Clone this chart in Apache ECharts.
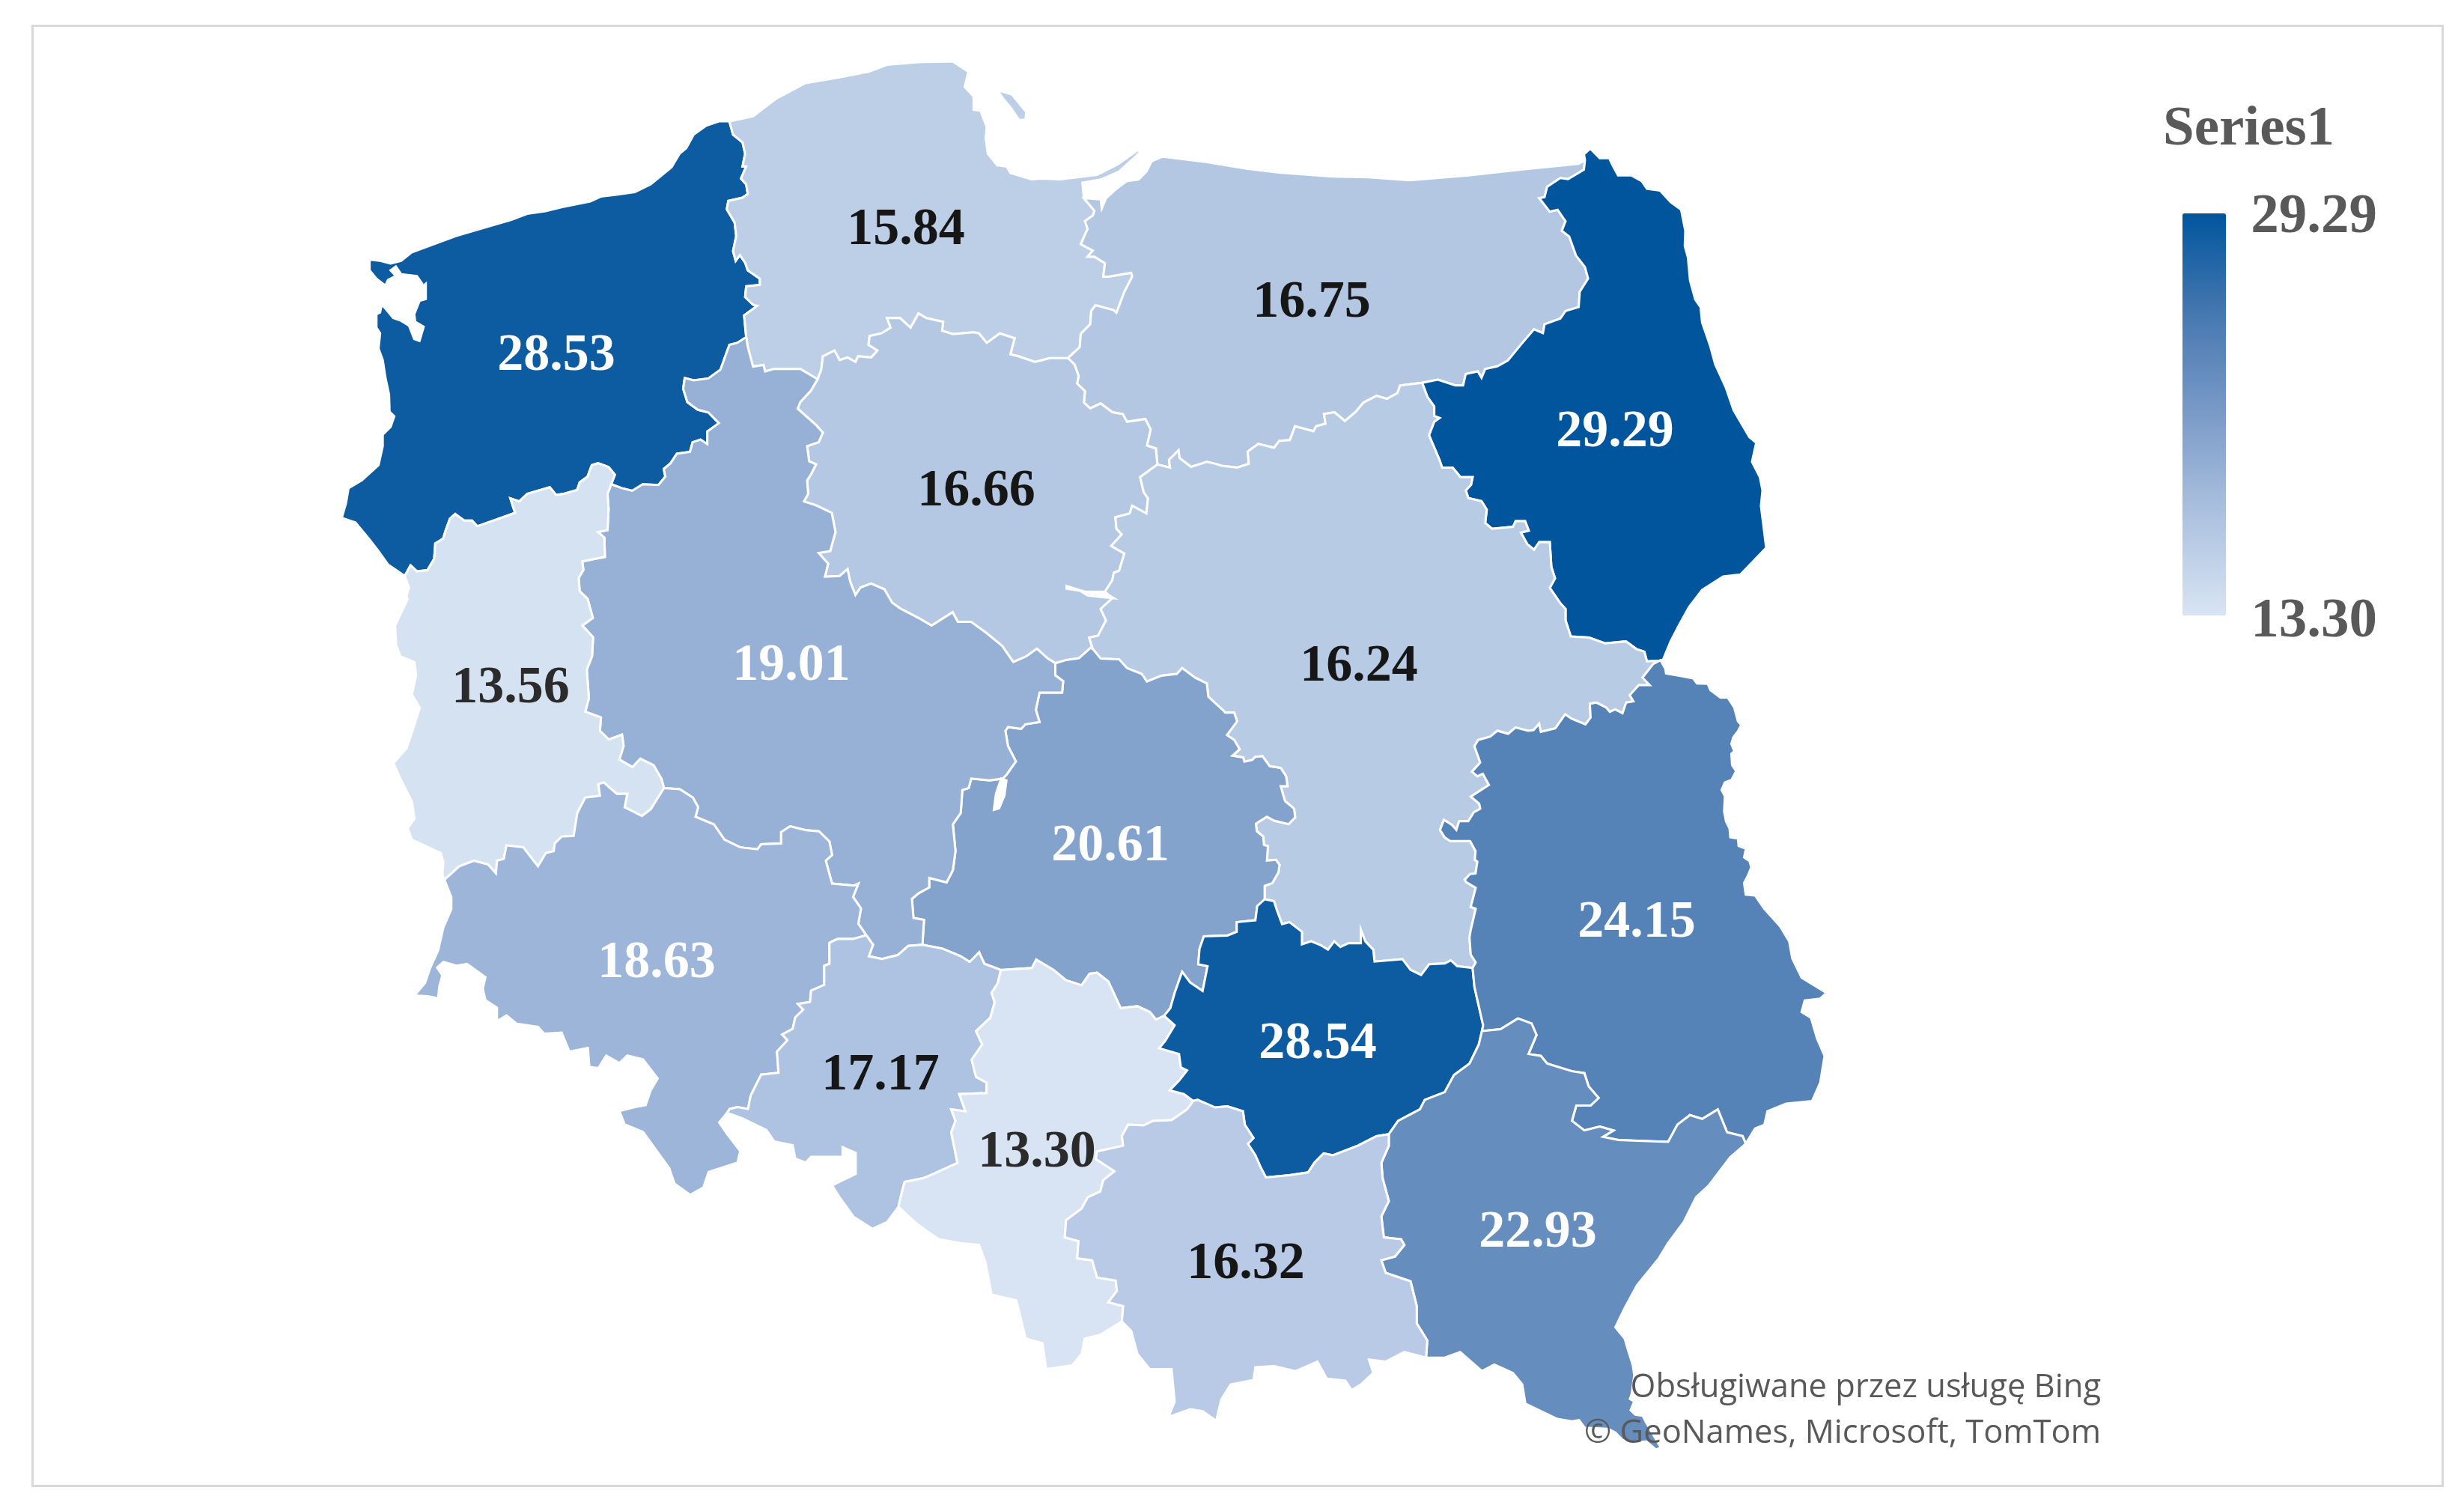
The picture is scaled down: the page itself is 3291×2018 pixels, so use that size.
<!DOCTYPE html>
<html>
<head>
<meta charset="utf-8">
<title>Series1</title>
<style>
  html, body { margin: 0; padding: 0; background: #fff; }
  #chart { width: 3291px; height: 2018px; }
</style>
<script src="https://cdn.jsdelivr.net/npm/echarts@6/dist/echarts.min.js"></script>
</head>
<body>
<div id="chart"></div>
<script>
// values per voivodeship
var regionNames = ['zachodniopomorskie', 'pomorskie', 'warminsko-mazurskie', 'podlaskie', 'kujawsko-pomorskie', 'mazowieckie', 'lubuskie', 'wielkopolskie', 'lodzkie', 'lubelskie', 'dolnoslaskie', 'opolskie', 'slaskie', 'swietokrzyskie', 'malopolskie', 'podkarpackie'];
var regionValues = [28.53, 15.84, 16.75, 29.29, 16.66, 16.24, 13.56, 19.01, 20.61, 24.15, 18.63, 17.17, 13.30, 28.54, 16.32, 22.93];
var valueMin = 13.30;
var valueMax = 29.29;
var rampColors = ['#d8e4f3', '#adc2e0', '#7a9bc8', '#4678b0', '#00559d'];

// label anchor of each region, in page pixels
var labelAnchors = [[743, 476], [1210, 308], [1752, 405], [2157, 578], [1304, 657], [1815, 891], [682, 920], [1057, 890], [1483, 1131], [2186, 1233], [877, 1287], [1176, 1437], [1385, 1540], [1760, 1395], [1664, 1689], [2054, 1647]];

// outlines were traced on enlarged crops, each crop has its own origin and scale
var crops = {
  nw: [420, 60, 1.4255, 1.96],
  ne: [1400, 150, 1.4255, 1.96],
  sw: [480, 800, 1.4255, 1.96],
  se: [1200, 1150, 1.2062, 1.96],
  mid: [1600, 880, 2.0632, 3],
  tail: [2080, 1800, 2.0632, 3]
};
function cr(name, pts) {
  var c = crops[name];
  return pts.map(function (p) { return [c[0] + p[0] / c[2], c[1] + p[1] / c[3]]; });
}
function rev(a) { return a.slice().reverse(); }

var zpCoast = cr('nw', [[790,200],[770,200],[745,212],[722,235],[708,270],[695,285],[680,320],[640,365],[610,385],[575,392],[545,397],[525,410],[470,425],[440,435],[405,442],[375,458],[315,482],[270,500],[240,515],[185,543],[165,565],[145,572],[125,565],[105,562],[105,590],[118,612],[135,630],[140,615],[155,605],[145,590],[155,580],[165,600],[195,605],[205,625],[203,635],[212,625],[212,665],[200,670],[190,705],[192,725],[208,738],[200,775],[190,770],[180,735],[165,722],[150,715],[135,690],[128,680],[125,700],[118,705],[118,740],[125,755],[122,795],[130,825],[135,870],[142,915],[143,960],[152,972],[145,1000],[130,1020],[130,1050],[122,1100],[90,1140],[65,1160],[60,1200],[52,1238],[78,1250],[105,1295],[122,1325],[140,1360],[172,1390]]);
var zpPm = cr('nw', [[790,200],[797,235],[815,255],[820,285],[815,318],[822,318],[812,350],[822,365],[825,390],[815,400],[788,408],[785,430],[800,465],[803,500],[797,540],[802,565],[810,550],[820,570],[825,590],[848,612],[848,628],[822,632],[820,660],[835,680],[843,683],[818,708],[822,765]]);
var zpWp = cr('nw', [[822,765],[805,780],[790,785],[773,850],[750,873],[722,878],[705,872],[702,900],[710,935],[730,955],[750,962],[770,990],[748,1012],[748,1045],[735,1033],[720,1040],[715,1065],[690,1070],[678,1095],[665,1110],[668,1130],[655,1152],[625,1150],[605,1167],[585,1160],[565,1150]]);
var zpLb = cr('nw', [[565,1150],[572,1125],[560,1105],[540,1095],[528,1100],[520,1130],[505,1145],[500,1165],[475,1175],[460,1178],[448,1158],[405,1175],[390,1195],[373,1187],[382,1225],[310,1260],[300,1245],[285,1245],[268,1228],[258,1240],[250,1270],[245,1292],[230,1305],[228,1345],[215,1375],[195,1378],[183,1362],[172,1390]]);
var pmCoast = cr('nw', [[790,200],[835,187],[880,140],[935,100],[1000,85],[1055,70],[1090,52],[1150,45],[1215,43],[1245,70],[1238,110],[1255,135],[1255,170],[1268,172],[1280,215],[1278,245],[1282,285],[1300,315],[1318,318],[1325,335],[1365,352],[1385,350],[1420,352],[1490,340],[1530,312],[1568,275]]).concat(cr('ne', [[175,105],[135,155],[100,176],[65,184],[68,225]]));
var pmWm = cr('ne', [[68,225],[88,258],[85,270],[70,285],[75,305],[62,345],[85,362],[75,378],[88,378],[108,395],[105,430],[115,430],[158,420],[160,430],[145,470],[130,525],[125,518],[90,505],[82,520],[80,555],[62,580],[60,615],[40,640],[38,645]]);
var pmKp = cr('nw', [[1435,820],[1400,820],[1372,830],[1340,815],[1325,810],[1333,768],[1305,755],[1280,780],[1265,755],[1255,752],[1215,757],[1195,748],[1197,725],[1165,715],[1150,703],[1135,740],[1115,715],[1090,715],[1097,740],[1080,755],[1057,762],[1055,785],[1072,800],[1060,818],[1035,815],[1030,830],[1015,818],[1000,825],[990,800],[968,815],[965,850],[958,875]]);
var pmWp = cr('nw', [[958,875],[925,848],[875,848],[858,855],[855,838],[835,842],[825,790],[822,765]]);
var wmCoast = cr('ne', [[68,225],[100,228],[102,252],[110,225],[130,200],[150,180],[172,176],[187,155],[197,128],[218,116],[300,130],[380,148],[440,158],[540,168],[610,170],[688,178],[800,165],[900,150],[1010,135],[1022,125]]);
var wmPd = cr('ne', [[1022,125],[1020,150],[990,175],[975,172],[950,195],[945,222],[935,225],[955,260],[970,255],[985,285],[978,310],[992,325],[1005,375],[1022,405],[1028,435],[1012,470],[1010,510],[985,520],[975,540],[945,555],[942,578],[925,568],[905,600],[875,650],[855,665],[832,672],[825,695],[818,678],[795,685],[790,715],[775,715],[742,700],[712,708]]);
var wmMz = cr('ne', [[712,708],[670,715],[665,735],[645,750],[625,742],[600,760],[585,785],[565,808],[545,785],[525,790],[528,815],[510,822],[505,835],[470,822],[460,858],[440,860],[430,878],[400,868],[380,888],[382,920],[360,930],[330,925],[318,920],[302,915],[272,928],[250,905],[248,885],[230,910],[232,930],[208,922]]);
var wmKp = cr('ne', [[38,645],[50,660],[58,690],[55,710],[70,730],[68,760],[80,775],[100,762],[122,785],[142,790],[150,810],[185,803],[195,830],[188,872],[205,880],[208,922]]);
var pdBorder = cr('ne', [[1022,125],[1020,110],[1032,95],[1050,120],[1068,120],[1075,140],[1085,165],[1110,165],[1130,180],[1140,200],[1165,205],[1185,235],[1205,255],[1213,310],[1212,350],[1218,380],[1222,440],[1232,490],[1242,510],[1245,550],[1260,610],[1270,660],[1290,720],[1305,780],[1322,820],[1335,850],[1348,865],[1340,915],[1355,955],[1360,990],[1357,1030],[1362,1085],[1367,1140],[1318,1210],[1285,1215],[1245,1250],[1220,1295],[1200,1345],[1185,1385],[1170,1435]]);
var pdMz = cr('ne', [[712,708],[722,745],[735,770],[735,795],[745,800],[735,810],[725,845],[745,910],[750,930],[770,930],[785,955],[808,955],[805,975],[795,990],[800,1010],[825,1018],[835,1040],[832,1075],[845,1090],[885,1085],[890,1070],[908,1070],[915,1095],[900,1100],[912,1130],[925,1145],[935,1125],[955,1125],[958,1190],[965,1220],[955,1245],[975,1285],[985,1300],[985,1330],[995,1372],[1030,1375],[1060,1390],[1100,1385],[1120,1405],[1135,1412],[1140,1437],[1170,1435]]);
var kpWp = cr('nw', [[958,875],[945,905],[925,935],[920,952],[955,995],[968,1015],[960,1040],[938,1050],[942,1090],[955,1098],[945,1125],[938,1140],[940,1175],[932,1195],[955,1205],[985,1225],[992,1275],[982,1325],[960,1330],[978,1358],[972,1392],[1000,1390],[1015,1372],[1020,1405],[1030,1440],[1040,1420],[1060,1410],[1085,1425],[1100,1460],[1115,1475],[1150,1500],[1175,1520],[1215,1485],[1225,1510],[1250,1510],[1280,1540],[1305,1568]]).concat(cr('sw', [[1225,125],[1245,165],[1270,150],[1290,130],[1310,155],[1325,168]]));
var kpLd = cr('sw', [[1325,168],[1345,160],[1370,155],[1392,128]]);
var kpMz = cr('ne', [[208,922],[175,955],[182,995],[190,1010],[187,1050],[160,1030],[155,1050],[128,1060],[130,1090],[140,1105],[120,1135],[145,1155],[135,1200],[125,1205],[122,1225],[108,1255],[122,1272],[100,1300],[110,1330],[95,1370],[78,1375],[85,1405]]);
var mzLd = cr('ne', [[85,1405],[100,1430],[135,1432],[150,1455],[178,1470],[188,1490],[215,1475],[245,1470],[255,1455],[280,1480],[302,1495],[305,1530],[335,1568]]).concat(cr('mid', [[75,215],[100,215],[108,250],[80,305],[100,325],[115,362],[95,388],[125,395],[128,412],[150,405],[158,392],[178,390],[198,430],[228,437],[243,470],[247,510],[228,510],[240,570],[265,600],[268,635],[250,662],[210,648],[190,632],[160,660],[162,690],[180,712],[182,745],[193,750],[190,808],[215,805],[225,825],[222,855],[205,898]]), cr('se', [[590,65],[590,100]]));
var mzSk = cr('se', [[590,100],[605,105],[610,130],[618,165],[630,160],[650,185],[650,218],[665,210],[680,220],[692,232],[702,210],[712,225],[725,215],[745,215],[745,180],[752,210],[765,232],[767,263],[812,257],[825,285],[842,298],[855,270],[880,268],[890,260],[900,275],[925,280]]);
var skLd = cr('se', [[590,100],[578,118],[575,155],[545,160],[545,185],[530,195],[492,197],[485,230],[483,270],[498,275],[490,340],[470,318],[457,290],[445,345],[438,385],[428,405]]);
var slSk = cr('se', [[428,405],[445,430],[430,470],[420,490],[452,505],[455,540],[465,548],[452,575],[437,600],[460,610],[475,628]]);
var maSk = cr('se', [[475,628],[482,625],[510,645],[530,642],[555,655],[558,690],[572,725],[563,740],[575,770],[583,800],[592,828],[630,822],[660,815],[670,790],[685,765],[700,770],[740,745],[770,720],[790,715]]);
var pkSk = cr('se', [[790,715],[805,680],[840,650],[848,625],[880,605],[895,560],[920,530],[935,480],[940,445]]);
var skLu = cr('se', [[925,280],[928,330],[935,380],[942,430],[940,445]]);
var luPk = cr('se', [[940,445],[970,440],[998,412],[1020,425],[1028,455],[1015,505],[1035,510],[1045,530],[1085,550],[1105,555],[1112,590],[1128,620],[1115,640],[1092,640],[1085,680],[1105,705],[1130,695],[1152,705],[1135,722],[1160,730],[1190,732],[1240,735],[1255,690],[1275,665],[1295,675],[1320,650],[1335,710],[1360,720],[1365,740]]);
var luBorder = cr('mid', [[1275,5],[1288,40],[1290,58],[1330,68],[1365,78],[1375,98],[1405,100],[1412,125],[1440,155],[1460,155],[1478,195],[1488,250],[1497,265],[1488,290],[1475,315],[1470,340],[1478,370],[1470,380],[1472,425],[1483,450],[1470,485],[1452,495],[1443,525],[1452,550],[1450,610],[1455,650],[1465,680],[1467,715],[1488,720],[1490,750],[1510,760],[1505,795],[1520,810],[1525,835],[1515,870],[1505,898]]).concat(cr('se', [[1365,88],[1380,90],[1395,125],[1420,170],[1435,210],[1440,255],[1455,305],[1495,345],[1485,360],[1460,365],[1455,395],[1470,410],[1480,465],[1492,510],[1485,580],[1472,628],[1430,635],[1400,655],[1395,690],[1380,700],[1365,740]]));
var luMz = cr('se', [[925,280],[930,265],[922,245],[920,200],[922,180],[930,125],[922,120],[930,70]]).concat(cr('mid', [[740,895],[735,885],[750,862],[765,860],[770,812],[763,805],[765,770],[750,730],[695,730],[680,715],[667,685],[678,645],[700,665],[712,685],[720,650],[745,650],[760,615],[778,600],[775,580],[752,552],[802,505],[785,460],[770,470],[755,452],[778,415],[762,350],[772,325],[805,312],[825,288],[855,300],[875,275],[910,288],[925,285],[940,260],[945,292],[985,278],[1012,222],[1030,240],[1068,262],[1082,235],[1080,180],[1098,175],[1125,195],[1135,212],[1150,202],[1170,218],[1180,175],[1200,170],[1190,145],[1215,105],[1245,105],[1225,75],[1255,20],[1275,5]]));
var pkBorder = cr('se', [[1365,740],[1340,775],[1305,850],[1285,880],[1265,945],[1240,1000],[1225,1040],[1190,1110],[1170,1170],[1155,1220],[1170,1250]]).concat(cr('tail', [[193,0],[208,70],[212,110],[205,185],[200,205],[212,215],[202,250],[215,268],[235,272],[245,300],[285,400],[272,408],[245,375],[215,380],[180,370],[160,340],[140,325],[75,320],[60,290],[40,295],[0,285]]), cr('se', [[1010,1420],[1005,1370],[990,1340],[960,1318],[940,1335],[905,1285],[880,1300],[850,1300]]));
var pkMa = cr('se', [[850,1300],[852,1255],[835,1210],[835,1165],[825,1100],[785,1078],[778,1045],[800,1035],[815,1005],[810,990],[782,985],[778,930],[790,890],[780,830],[778,790],[790,745],[790,715]]);
var maSl = cr('se', [[475,628],[465,650],[440,678],[410,680],[395,692],[370,690],[360,720],[362,745],[320,760],[318,780],[348,812],[330,835],[325,865],[305,880],[295,910],[270,940],[268,985],[290,995],[288,1040],[312,1045],[320,1090],[350,1098],[352,1125],[338,1155],[362,1165],[360,1205]]);
var maBorder = cr('se', [[360,1205],[375,1230],[385,1290],[405,1330],[440,1330],[445,1415],[435,1455],[470,1435],[490,1440],[512,1465],[520,1410],[535,1370],[572,1358],[575,1325],[605,1322],[640,1335],[675,1310],[690,1355],[720,1360],[730,1385],[745,1370],[765,1340],[758,1305],[785,1310],[815,1285],[850,1300]]);
var slLd = cr('se', [[165,285],[215,280],[222,258],[250,285],[270,312],[295,325],[308,295],[320,292],[338,315],[358,385],[385,380],[405,395],[415,415],[428,405]]);
var slOp = cr('se', [[165,285],[160,320],[150,345],[155,370],[148,410],[125,445],[135,480],[118,520],[125,565],[142,580],[142,607],[98,610],[108,655],[85,650],[92,680],[85,710],[95,790],[55,820],[40,830],[10,840],[5,870],[0,905]]);
var slBorder = cr('se', [[0,905],[30,950],[65,990],[100,1000],[130,1005],[140,1050],[150,1135],[190,1150],[205,1250],[232,1262],[238,1330],[280,1320],[295,1290],[300,1250],[325,1240],[360,1205]]);
var wpLd = cr('sw', [[1325,168],[1325,200],[1340,215],[1338,245],[1295,245],[1288,290],[1295,322],[1268,328],[1260,340],[1235,335],[1230,345],[1235,385],[1250,425],[1232,460],[1225,470],[1200,475],[1165,470],[1160,495],[1148,500],[1145,560],[1130,590],[1135,660],[1130,710],[1118,742],[1085,730],[1085,755],[1065,770],[1052,785],[1055,835],[1075,840],[1072,905]]);
var wpOp = cr('sw', [[965,880],[978,905],[970,935],[995,942],[1025,932],[1045,908],[1072,905]]);
var opLd = cr('sw', [[1072,905],[1110,915],[1145,935],[1162,950],[1180,925],[1190,955],[1220,970]]);
var wpDs = cr('sw', [[965,880],[950,850],[955,810],[940,780],[950,745],[942,750],[900,745],[888,685],[900,670],[895,635],[875,608],[850,605],[820,595],[803,610],[803,640],[765,642],[758,655],[725,650],[695,630],[675,590],[640,570],[645,545],[635,520],[610,498],[580,495]]);
var wpLb = cr('nw', [[565,1150],[558,1175],[560,1215],[558,1270],[540,1275],[552,1290],[553,1340],[510,1352],[512,1375],[503,1395],[505,1430],[520,1450],[530,1500],[510,1520]]).concat(cr('sw', [[445,100],[443,150],[433,185],[437,260],[430,295],[460,310],[458,345],[475,368],[500,355],[503,385],[495,420],[520,440],[535,418],[560,435],[575,470],[580,495]]));
var lbDs = cr('sw', [[580,495],[555,550],[538,568],[505,545],[510,510],[490,510],[465,480],[455,485],[458,515],[430,520],[415,560],[408,620],[385,622],[372,640],[370,660],[355,665],[340,700],[312,650],[280,645],[275,680],[262,685],[260,718],[245,695],[218,685],[190,700],[162,735]]);
var lbBorder = cr('nw', [[172,1390],[180,1420],[175,1445]]).concat(cr('sw', [[92,0],[68,70],[70,120],[78,150],[105,165],[108,200],[100,250],[115,285],[100,350],[90,390],[65,430],[78,470],[100,530],[105,575],[92,600],[100,630],[155,665],[160,690],[158,720],[162,735]]));
var dsBorder = cr('sw', [[162,735],[175,780],[175,812],[160,860],[150,920],[135,965],[125,1005],[105,1038],[130,1040],[150,1045],[152,1015],[158,985],[148,965],[160,950],[185,960],[205,955],[225,975],[240,990],[235,1020],[240,1050],[262,1070],[262,1105],[280,1090],[300,1112],[340,1120],[352,1138],[385,1135],[400,1185],[435,1175],[438,1225],[455,1228],[470,1195],[495,1215],[510,1195],[540,1205],[568,1255],[555,1285],[545,1325],[525,1330],[495,1340],[505,1375],[540,1395],[590,1490],[600,1530],[630,1560],[655,1540],[665,1500],[720,1475],[725,1445],[700,1400],[685,1370],[700,1345]]);
var opDs = cr('sw', [[965,880],[940,890],[910,890],[895,900],[895,955],[885,960],[885,1010],[860,1025],[858,1055],[835,1060],[845,1075],[830,1095],[825,1125],[805,1140],[815,1155],[795,1185],[798,1240],[765,1245],[745,1300],[740,1335],[720,1330],[705,1335],[700,1345]]);
var opBorder = cr('sw', [[700,1345],[730,1360],[775,1390],[790,1420],[825,1430],[830,1465],[850,1475],[860,1460],[920,1460],[920,1435],[945,1450],[945,1505],[900,1535],[915,1568]]).concat([[1140,1625],[1165,1641],[1185,1632],[1200,1612]]);

// separate bits of land and water
var helSpit = cr('nw', [[1300,118],[1328,130],[1355,175],[1354,195],[1342,197],[1325,163],[1312,142]]);
var lakeWloclawek = cr('ne', [[35,1240],[70,1255],[105,1255],[125,1272],[110,1270],[75,1265],[60,1252],[35,1247]]);
var lakeJeziorsko = cr('sw', [[1222,470],[1232,475],[1228,515],[1218,548],[1208,552],[1212,510]]);

var regionRings = {
  'zachodniopomorskie': [[].concat(zpPm, zpWp, zpLb, rev(zpCoast))],
  'pomorskie': [[].concat(pmCoast, pmWm, pmKp, pmWp, rev(zpPm)), helSpit],
  'warminsko-mazurskie': [[].concat(wmCoast, wmPd, wmMz, rev(wmKp), rev(pmWm))],
  'podlaskie': [[].concat(pdBorder, rev(pdMz), rev(wmPd))],
  'kujawsko-pomorskie': [[].concat(rev(pmKp), wmKp, kpMz, rev(kpLd), rev(kpWp))],
  'mazowieckie': [[].concat(rev(wmMz), pdMz, rev(luMz), rev(mzSk), rev(mzLd), rev(kpMz))],
  'lodzkie': [[].concat(mzLd, skLd, rev(slLd), rev(opLd), rev(wpLd), kpLd)],
  'wielkopolskie': [[].concat(rev(pmWp), kpWp, wpLd, rev(wpOp), wpDs, rev(wpLb), rev(zpWp))],
  'lubuskie': [[].concat(zpLb, lbBorder, rev(lbDs), rev(wpLb))],
  'dolnoslaskie': [[].concat(lbDs, dsBorder, rev(opDs), wpDs)],
  'opolskie': [[].concat(opDs, opBorder, rev(slOp), rev(opLd), rev(wpOp))],
  'slaskie': [[].concat(slOp, slBorder, rev(maSl), rev(slSk), rev(slLd))],
  'swietokrzyskie': [[].concat(mzSk, skLu, rev(pkSk), rev(maSk), rev(slSk), rev(skLd))],
  'lubelskie': [[].concat(luMz, luBorder, rev(luPk), rev(skLu))],
  'podkarpackie': [[].concat(luPk, pkBorder, pkMa, pkSk)],
  'malopolskie': [[].concat(maSl, maBorder, pkMa, rev(maSk))],
  'lake-wloclawek': [lakeWloclawek],
  'lake-jeziorsko': [lakeJeziorsko]
};

function toGeo(p) { return [p[0], -p[1]]; }

var minX = Infinity, maxX = -Infinity, minY = Infinity, maxY = -Infinity;
var features = Object.keys(regionRings).map(function (name) {
  var rings = regionRings[name];
  rings.forEach(function (ring) {
    ring.forEach(function (p) {
      minX = Math.min(minX, p[0]); maxX = Math.max(maxX, p[0]);
      minY = Math.min(minY, p[1]); maxY = Math.max(maxY, p[1]);
    });
  });
  var idx = regionNames.indexOf(name);
  var props = { name: name };
  if (idx >= 0) props.cp = toGeo(labelAnchors[idx]);
  return {
    type: 'Feature',
    properties: props,
    geometry: {
      type: 'MultiPolygon',
      coordinates: rings.map(function (ring) {
        var closed = ring.map(toGeo);
        closed.push(closed[0]);
        return [closed];
      })
    }
  };
});
echarts.registerMap('poland', { type: 'FeatureCollection', features: features });

var dom = document.getElementById('chart');
var myChart = echarts.init(dom, null, { renderer: 'canvas' });

var serifBold = { fontFamily: '"Liberation Serif"', fontWeight: 'bold', fontSize: 75, fill: '#595959' };

function labelColor(v) {
  if (v > 18) return '#ffffff';
  return v < 14 ? '#2b2b2b' : '#161616';
}

var option = {
  animation: false,
  backgroundColor: '#ffffff',
  title: {
    text: 'Series1',
    left: 2889,
    top: 136,
    padding: 0,
    textStyle: { fontFamily: '"Liberation Serif"', fontWeight: 'bold', fontSize: 75, color: '#595959' }
  },
  visualMap: {
    type: 'continuous',
    min: valueMin,
    max: valueMax,
    left: 2915,
    top: 285,
    padding: 0,
    itemWidth: 58,
    itemHeight: 537,
    calculable: false,
    hoverLink: false,
    text: null,
    showLabel: false,
    inRange: { color: rampColors },
    seriesIndex: 0
  },
  graphic: [
    {
      type: 'rect',
      silent: true,
      z: -1,
      shape: { x: 43.5, y: 34.5, width: 3219, height: 1950 },
      style: { fill: 'none', stroke: '#d9d9d9', lineWidth: 3 }
    },
    {
      type: 'text',
      silent: true,
      x: 3175,
      y: 291,
      style: Object.assign({ text: valueMax.toFixed(2), textAlign: 'right', textVerticalAlign: 'middle' }, serifBold)
    },
    {
      type: 'text',
      silent: true,
      x: 3175,
      y: 831,
      style: Object.assign({ text: valueMin.toFixed(2), textAlign: 'right', textVerticalAlign: 'middle' }, serifBold)
    },
    {
      type: 'text',
      silent: true,
      z: 100,
      x: 2806,
      y: 1854,
      style: { text: 'Obsługiwane przez usługę Bing', textAlign: 'right', textVerticalAlign: 'middle', fontFamily: '"Open Sans"', fontSize: 43.5, fill: '#595959' }
    },
    {
      type: 'text',
      silent: true,
      z: 100,
      x: 2806,
      y: 1915,
      style: { text: '© GeoNames, Microsoft, TomTom', textAlign: 'right', textVerticalAlign: 'middle', fontFamily: '"Open Sans"', fontSize: 43.5, fill: '#595959' }
    }
  ],
  series: [
    {
      type: 'map',
      map: 'poland',
      aspectScale: 1,
      roam: false,
      left: minX,
      top: minY,
      width: maxX - minX,
      height: maxY - minY,
      selectedMode: false,
      silent: true,
      itemStyle: { areaColor: '#ffffff', borderColor: '#ffffff', borderWidth: 3 },
      label: {
        show: true,
        fontFamily: '"Liberation Serif"',
        fontWeight: 'bold',
        fontSize: 70,
        formatter: function (p) { return isNaN(p.value) ? '' : p.value.toFixed(2); }
      },
      emphasis: { disabled: true },
      data: regionNames.map(function (name, i) {
        return {
          name: name,
          value: regionValues[i],
          label: { color: labelColor(regionValues[i]) }
        };
      })
    }
  ]
};
myChart.setOption(option);

window.addEventListener('resize', myChart.resize);
</script>
</body>
</html>
